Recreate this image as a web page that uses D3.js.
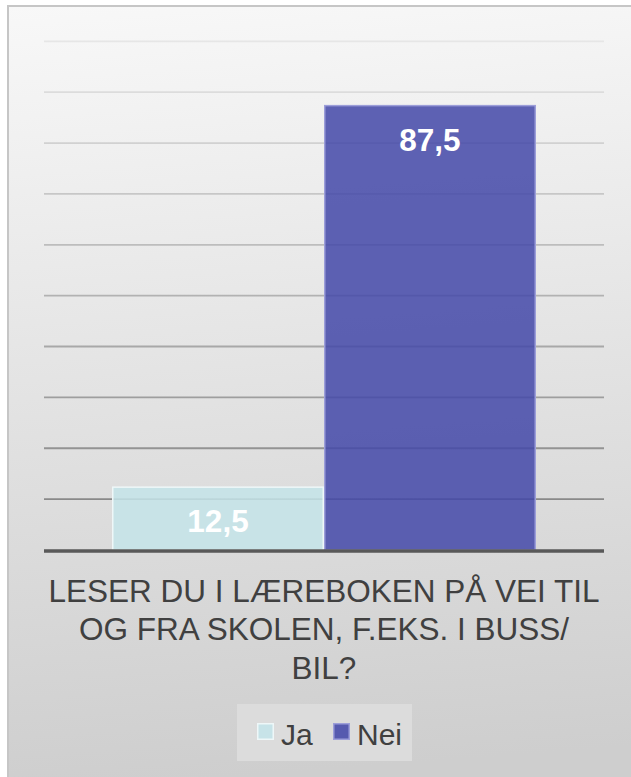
<!DOCTYPE html>
<html>
<head>
<meta charset="utf-8">
<script src="https://cdn.jsdelivr.net/npm/d3@7"></script>
<style>
  html, body { margin: 0; padding: 0; background: #ffffff; }
  svg { display: block; }
  text { font-family: "Liberation Sans", Arial, sans-serif; }
</style>
</head>
<body>
<div id="chart"></div>
<script>
// ---- data ----
const categoryLines = ["LESER DU I LÆREBOKEN PÅ VEI TIL", "OG FRA SKOLEN, F.EKS. I BUSS/", "BIL?"];
const categories = [categoryLines.join(" ")];
const seriesNames = ["Ja", "Nei"];
const jaValues = [12.5];
const neiValues = [87.5];
const yDomain = [0, 100];

// ---- layout ----
const W = 631, H = 777;
const plot = { left: 44, right: 604, top: 41.3, bottom: 550 };
const colors = { Ja: "#c4e4e9", Nei: "#4348a8" };
const strokes = { Ja: "#eef7f8", Nei: "#9c9ed9" };

const svg = d3.select("#chart").append("svg").attr("width", W).attr("height", H);
const defs = svg.append("defs");
const bg = defs.append("linearGradient").attr("id", "bg")
  .attr("gradientUnits", "userSpaceOnUse")
  .attr("x1", 0).attr("y1", 6).attr("x2", 60).attr("y2", 790);
bg.append("stop").attr("offset", 0).attr("stop-color", "#f8f8f8");
bg.append("stop").attr("offset", 1).attr("stop-color", "#cecece");

svg.append("rect").attr("x", 8).attr("y", 6).attr("width", 660).attr("height", 800)
  .attr("fill", "url(#bg)").attr("stroke", "#c6c6c6").attr("stroke-width", 2);

const y = d3.scaleLinear().domain(yDomain).range([plot.bottom, plot.top]);
const x0 = d3.scaleBand().domain(categories).range([plot.left, plot.right])
  .paddingInner(0).paddingOuter(0.1604);
const x1 = d3.scaleBand().domain(seriesNames).range([0, x0.bandwidth()]).padding(0);

// gridlines
const gridColor = d3.scaleLinear().domain([10, 100]).range(["#898989", "#e6e6e6"]);
const ticks = y.ticks(10).filter(t => t > 0);
svg.append("g").selectAll("line").data(ticks).join("line")
  .attr("x1", plot.left).attr("x2", plot.right)
  .attr("y1", d => y(d)).attr("y2", d => y(d))
  .attr("stroke", d => gridColor(d)).attr("stroke-width", 1.8);

// bars
const series = seriesNames.map((name, i) => ({ name, values: i === 0 ? jaValues : neiValues }));
const barData = [];
series.forEach(s => s.values.forEach((v, ci) => barData.push({ name: s.name, cat: categories[ci], value: v })));

const bars = svg.append("g");
bars.selectAll("rect").data(barData).join("rect")
  .attr("x", d => x0(d.cat) + x1(d.name) + 0.75)
  .attr("y", d => y(d.value) + 0.75)
  .attr("width", x1.bandwidth() - 1.5)
  .attr("height", d => y(0) - y(d.value) - 0.75)
  .attr("fill", d => colors[d.name]).attr("fill-opacity", 0.85)
  .attr("stroke", d => strokes[d.name]).attr("stroke-width", 1.5);

// baseline
svg.append("line").attr("x1", plot.left).attr("x2", plot.right)
  .attr("y1", y(0) + 1).attr("y2", y(0) + 1)
  .attr("stroke", "#595959").attr("stroke-width", 3.5);

// data labels
const loc = d3.formatLocale({ decimal: ",", thousands: " ", grouping: [3], currency: ["", " kr"] });
const fmt = loc.format(".1f");
svg.append("g").selectAll("text").data(barData).join("text")
  .attr("x", d => x0(d.cat) + x1(d.name) + x1.bandwidth() / 2)
  .attr("y", d => y(d.value) + 46)
  .attr("text-anchor", "middle")
  .attr("font-size", "31.5px").attr("font-weight", "bold")
  .attr("fill", "#ffffff")
  .text(d => fmt(d.value));

// category axis label (multi-line)
const cx = x0(categories[0]) + x0.bandwidth() / 2;
svg.append("g").selectAll("text").data(categoryLines).join("text")
  .attr("x", cx).attr("y", (d, i) => 601.5 + i * 38.5)
  .attr("text-anchor", "middle")
  .attr("font-size", "31.5px").attr("fill", "#404040")
  .text(d => d);

// legend
const lg = svg.append("g");
lg.append("rect").attr("x", 237).attr("y", 704).attr("width", 175).attr("height", 57)
  .attr("fill", "#dcdcdc");
const legX = [257, 333];
seriesNames.forEach((name, i) => {
  lg.append("rect").attr("x", legX[i] + 0.75).attr("y", 723.75).attr("width", 15.5).attr("height", 15.5)
    .attr("fill", colors[name]).attr("fill-opacity", 0.88)
    .attr("stroke", strokes[name]).attr("stroke-width", 1.5);
  lg.append("text").attr("x", legX[i] + 24).attr("y", 745)
    .attr("font-size", "30px").attr("fill", "#404040").text(name);
});
</script>
</body>
</html>
